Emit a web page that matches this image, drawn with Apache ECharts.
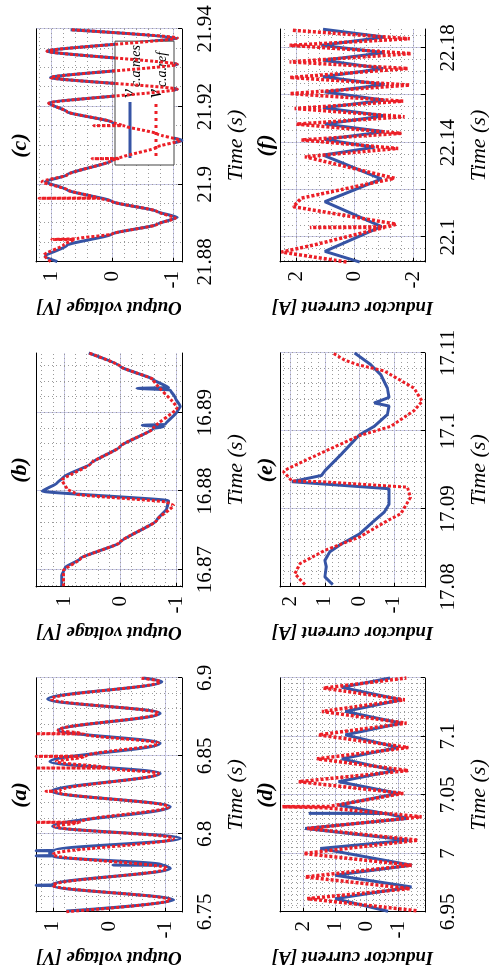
<!DOCTYPE html>
<html>
<head>
<meta charset="utf-8">
<title>Output voltage and inductor current</title>
<script src="https://cdn.jsdelivr.net/npm/echarts@6/dist/echarts.min.js"></script>
<style>
  html, body { margin: 0; padding: 0; background: #fff; overflow: hidden; }
  /* the figure is laid out landscape and turned a quarter turn to the left */
  #chart {
    position: absolute; left: 0; top: 0;
    width: 976px; height: 489px;
    transform-origin: 0 0;
    transform: translateY(976px) rotate(-90deg);
  }
</style>
</head>
<body>
<div id="chart"></div>
<script>
// [time (s), value]
const aMes = [[6.7506,0.76],[6.7577,-1.15],[6.7669,1.0],[6.7671,1.30],[6.7674,1.02],[6.7780,-1.09],[6.7799,-1.0],[6.7801,-0.07],[6.7802,-0.95],[6.7859,1.0],[6.7860,1.30],[6.7862,1.02],[6.7878,1.06],[6.7892,1.0],[6.7893,1.30],[6.7895,0.98],[6.7972,-1.27],[6.8049,1.0],[6.8175,-1.09],[6.8274,1.02],[6.8389,-0.91],[6.8464,1.05],[6.8581,-0.91],[6.8665,0.9],[6.8774,-0.91],[6.8865,1.09],[6.8977,-0.94],[6.9,-0.61]];
const aRef = [[6.7502,0.76],[6.7577,-1.09],[6.7671,1.0],[6.7780,-1.03],[6.7868,1.0],[6.7972,-1.15],[6.8049,0.97],[6.8073,0.55],[6.8075,1.3],[6.8077,0.5],[6.8175,-1.06],[6.8272,0.95],[6.8274,1.12],[6.8276,0.88],[6.8389,-0.88],[6.8422,0.0],[6.8423,1.3],[6.8424,0.05],[6.8464,0.94],[6.8496,0.45],[6.8498,1.3],[6.85,0.4],[6.8581,-0.88],[6.8641,0.44],[6.8643,1.3],[6.8645,0.5],[6.8665,0.91],[6.8774,-0.88],[6.8865,1.03],[6.8977,-0.91],[6.9,-0.55]];

const bMes = [[16.8679,1.04],[16.8693,1.04],[16.8703,0.98],[16.8714,0.71],[16.8735,0],[16.8763,-0.65],[16.8778,-0.83],[16.8788,-0.86],[16.88,1.39],[16.881,1.13],[16.8818,1.01],[16.8835,0.53],[16.8857,0],[16.888,-0.59],[16.8882,-0.77],[16.8884,-0.39],[16.8885,-0.8],[16.8901,-1.01],[16.8908,-1.07],[16.8919,-0.98],[16.8929,-0.89],[16.8931,-0.3],[16.8932,-0.86],[16.8942,-0.59],[16.8959,0],[16.8976,0.56]];
const bRef = [[16.8679,1.01],[16.8699,1.01],[16.8714,0.71],[16.8735,0],[16.8763,-0.65],[16.8782,-0.95],[16.8786,-0.83],[16.8796,0.77],[16.8803,0.95],[16.8814,1.04],[16.8835,0.53],[16.8857,0],[16.888,-0.59],[16.8906,-1.01],[16.8942,-0.59],[16.8959,0],[16.8976,0.56]];

const cMes = [[21.8801,0.90],[21.8815,1.10],[21.8843,0.74],[21.8872,0],[21.8897,-0.74],[21.8915,-1.07],[21.893,-0.74],[21.8956,0],[21.8986,0.74],[21.9007,1.10],[21.9024,0.74],[21.9062,0],[21.9096,-0.74],[21.9113,-1.15],[21.913,-0.74],[21.916,0],[21.9187,0.74],[21.9209,1.04],[21.9245,-1.07],[21.9275,1.01],[21.9309,-1.07],[21.9343,1.07],[21.9377,-1.07],[21.9398,0.68]];
const cRef = [[21.8801,1.01],[21.8818,1.12],[21.8845,0.79],[21.8858,0.63],[21.8858,0.99],[21.886,0.58],[21.8872,0],[21.8897,-0.74],[21.8913,-1.04],[21.893,-0.74],[21.8956,0],[21.8964,0.19],[21.8964,1.2],[21.8965,0.25],[21.8986,0.74],[21.9007,1.15],[21.9024,0.74],[21.9062,0],[21.9066,-0.1],[21.9066,0.33],[21.9067,-0.12],[21.9096,-0.74],[21.9113,-1.12],[21.913,-0.74],[21.9151,-0.2],[21.9151,0.3],[21.9152,-0.16],[21.916,0],[21.9187,0.74],[21.9209,1.04],[21.9245,-1.07],[21.9275,1.01],[21.9309,-1.07],[21.9343,1.07],[21.9377,-1.07],[21.9398,0.68]];

const dMes = [[6.9506,-0.68],[6.9614,1.0],[6.9714,-1.42],[6.9814,1.0],[6.99,-1.42],[7.0043,1.47],[7.0114,-1.32],[7.0214,1.95],[7.03,-1.32],[7.0342,-0.6],[7.0343,1.84],[7.0345,-0.5],[7.0414,0.89],[7.0514,-1.0],[7.0614,0.89],[7.0709,-0.89],[7.0809,0.79],[7.0906,-1.0],[7.1014,0.68],[7.1114,-1.1],[7.1214,0.68],[7.1314,-1.1],[7.142,0.79],[7.15,-0.74]];
const dRef = [[6.9511,-1.58],[6.9614,1.89],[6.97,-1.37],[6.98,1.95],[6.99,-1.42],[7.0,2.0],[7.0114,-1.63],[7.0214,1.89],[7.0314,-1.74],[7.0391,1.32],[7.04,2.68],[7.0402,1.2],[7.0514,-1.16],[7.0614,2.16],[7.0709,-1.32],[7.0809,1.58],[7.0906,-1.32],[7.1014,1.53],[7.1114,-1.26],[7.1214,1.42],[7.1314,-1.21],[7.1414,1.37],[7.15,-1.26]];

const eMes = [[17.0803,0.77],[17.0813,1.0],[17.0826,0.96],[17.0834,1.0],[17.0845,0.86],[17.0855,0.53],[17.0868,0],[17.0885,-0.43],[17.0896,-0.72],[17.0906,-0.86],[17.0926,-0.86],[17.0935,1.96],[17.0943,1.10],[17.0949,1.0],[17.097,0.53],[17.0995,0],[17.1006,-0.43],[17.1021,-0.81],[17.1032,-0.86],[17.1036,-0.43],[17.1043,-0.86],[17.1055,-0.81],[17.1072,-0.62],[17.1085,-0.33],[17.11,0.14]];
const eRef = [[17.0803,1.58],[17.0817,1.87],[17.083,1.72],[17.0847,1.0],[17.0864,0],[17.0885,-0.81],[17.0894,-1.2],[17.0915,-1.48],[17.0928,-1.39],[17.0935,1.10],[17.0936,1.96],[17.0948,2.2],[17.0952,2.06],[17.0974,1.0],[17.0994,0],[17.1006,-0.91],[17.1026,-1.58],[17.1038,-1.82],[17.1055,-1.58],[17.1077,-0.72],[17.1085,0.05],[17.1091,0.43],[17.11,0.77]];

const fMes = [[22.0895,-0.17],[22.094,1.02],[22.1045,-0.91],[22.115,1.02],[22.1246,-0.91],[22.1347,1.08],[22.138,-0.68],[22.1413,1.02],[22.1446,-1.02],[22.1478,1.02],[22.1513,-1.02],[22.1547,1.08],[22.1579,-1.02],[22.1614,1.02],[22.1645,-1.02],[22.1678,1.08],[22.1713,-0.97],[22.1748,1.08],[22.178,-1.02],[22.1811,1.14],[22.1846,-1.02],[22.1879,1.08]];
const fRef = [[22.0895,0.28],[22.0937,2.5],[22.0968,1.36],[22.1031,-0.68],[22.1041,-1.02],[22.1041,1.53],[22.1044,-1.14],[22.1055,-1.42],[22.1129,2.1],[22.1165,1.82],[22.1249,-1.36],[22.134,1.70],[22.1375,-1.48],[22.1411,1.82],[22.1439,-1.59],[22.1478,1.99],[22.1509,-1.70],[22.1544,2.05],[22.1575,-1.65],[22.1607,2.22],[22.1643,-1.88],[22.1675,2.22],[22.1713,-1.82],[22.1741,2.22],[22.1776,-1.93],[22.1811,2.22],[22.1839,-1.88],[22.1875,2.16]];

// tick values
const tickA = [6.75, 6.8, 6.85, 6.9];
const tickB = [16.87, 16.88, 16.89];
const tickC = [21.88, 21.9, 21.92, 21.94];
const tickD = [6.95, 7, 7.05, 7.1, 7.15];
const labelD = [6.95, 7, 7.05, 7.1];
const tickE = [17.08, 17.09, 17.1, 17.11];
const tickF = [22.1, 22.12, 22.14, 22.16, 22.18];
const labelF = [22.1, 22.14, 22.18];
const voltTicks = [-1, 0, 1];
const ampTicks = [-1, 0, 1, 2];
const ampTicksF = [-2, 0, 2];

const FONT = '"Liberation Serif", "Times New Roman", serif';
const BLUE = '#3654a5';
const RED = '#ec1f27';
const DOTS = 'path://M0,0h3v3h-3zM7,0h3v3h-3zM14,0h3v3h-3zM21,0h3v3h-3zM28,0h3v3h-3zM35,0h3v3h-3zM42,0h3v3h-3zM49,0h3v3h-3z';

const panels = [
  { tag: '(a)', box: [64, 36, 234, 146], t: [6.75, 6.9], v: [-1.3, 1.3], tMajor: tickA, tLabels: tickA, tStep: 0.01, vMajor: voltTicks, vStep: 0.2, yName: 'Output voltage [V]', mes: aMes, ref: aRef, smooth: 0.35, redW: 3 },
  { tag: '(b)', box: [389, 36, 234, 146], t: [16.8678, 16.8976], v: [-1.1, 1.5], tMajor: tickB, tLabels: tickB, tStep: 0.002, vMajor: voltTicks, vStep: 0.2, yName: 'Output voltage [V]', mes: bMes, ref: bRef, smooth: 0.15, redW: 3 },
  { tag: '(c)', box: [714, 36, 233, 146], t: [21.88, 21.94], v: [-1.15, 1.25], tMajor: tickC, tLabels: tickC, tStep: 0.005, vMajor: voltTicks, vStep: 0.2, yName: 'Output voltage [V]', mes: cMes, ref: cRef, smooth: 0.2, redW: 3 },
  { tag: '(d)', box: [64, 280, 234, 145], t: [6.95, 7.15], v: [-1.85, 2.75], tMajor: tickD, tLabels: labelD, tStep: 0.005, vMajor: ampTicks, vStep: 0.2, yName: 'Inductor current [A]', mes: dMes, ref: dRef, smooth: false, redW: 3.5 },
  { tag: '(e)', box: [389, 280, 234, 145], t: [17.08, 17.11], v: [-1.9, 2.3], tMajor: tickE, tLabels: tickE, tStep: 0.002, vMajor: ampTicks, vStep: 0.2, yName: 'Inductor current [A]', mes: eMes, ref: eRef, smooth: false, redW: 3 },
  { tag: '(f)', box: [714, 280, 233, 145], t: [22.0895, 22.188], v: [-2.4, 2.55], tMajor: tickF, tLabels: labelF, tStep: 0.005, vMajor: ampTicksF, vStep: 0.4, yName: 'Inductor current [A]', mes: fMes, ref: fRef, smooth: false, redW: 3.5 }
];

function steps(min, max, step) {
  const out = [];
  for (let k = Math.ceil(min / step - 1e-6); k * step <= max + 1e-9; k++) {
    out.push(+(k * step).toFixed(6));
  }
  return out;
}

const fmt = v => String(+(+v).toFixed(4));

const grids = [], xAxes = [], yAxes = [], series = [], graphics = [];

panels.forEach((p, i) => {
  const [left, top, width, height] = p.box;
  grids.push({ left, top, width, height, containLabel: false, outerBoundsMode: 'none' });

  // time axis: labelled ticks and solid grid
  xAxes.push({
    gridIndex: i, type: 'value', min: p.t[0], max: p.t[1], position: 'bottom',
    axisLine: { show: true, onZero: false, lineStyle: { color: '#000', width: 1 } },
    axisTick: { show: true, inside: true, length: 4, customValues: p.tMajor, lineStyle: { color: '#000' } },
    axisLabel: { customValues: p.tLabels, margin: 13, fontSize: 21, fontFamily: FONT, color: '#000', formatter: fmt },
    splitLine: { show: true, lineStyle: { color: '#cacae8', width: 1 } },
    name: 'Time (s)', nameLocation: 'middle', nameGap: 43,
    nameTextStyle: { fontFamily: FONT, fontStyle: 'italic', fontSize: 22, color: '#000' }
  });
  // dotted minor grid + top border
  xAxes.push({
    gridIndex: i, type: 'value', min: p.t[0], max: p.t[1], position: 'top',
    axisLine: { show: true, onZero: false, lineStyle: { color: '#000', width: 1 } },
    axisTick: { show: false, customValues: steps(p.t[0], p.t[1], p.tStep) },
    axisLabel: { show: false },
    splitLine: { show: true, lineStyle: { color: '#9a9a9a', width: 1, type: [1, 3] } }
  });

  yAxes.push({
    gridIndex: i, type: 'value', min: p.v[0], max: p.v[1], position: 'left',
    axisLine: { show: true, onZero: false, lineStyle: { color: '#000', width: 1 } },
    axisTick: { show: true, inside: true, length: 4, customValues: p.vMajor, lineStyle: { color: '#000' } },
    axisLabel: { customValues: p.vMajor, margin: 9, fontSize: 21, fontFamily: FONT, color: '#000', formatter: fmt },
    splitLine: { show: true, lineStyle: { color: '#cacae8', width: 1 } },
    name: p.yName, nameLocation: 'middle', nameRotate: 90, nameGap: 35,
    nameTextStyle: { fontFamily: FONT, fontStyle: 'italic', fontWeight: 'bold', fontSize: 19, color: '#000' }
  });
  yAxes.push({
    gridIndex: i, type: 'value', min: p.v[0], max: p.v[1], position: 'right',
    axisLine: { show: false },
    axisTick: { show: false, customValues: steps(p.v[0], p.v[1], p.vStep) },
    axisLabel: { show: false },
    splitLine: { show: true, lineStyle: { color: '#9a9a9a', width: 1, type: [1, 3] } }
  });

  series.push({
    name: 'v_c.a.mes', type: 'line', xAxisIndex: 2 * i, yAxisIndex: 2 * i,
    data: p.mes, symbol: 'none', showSymbol: false, clip: true,
    smooth: p.smooth, smoothMonotone: 'x',
    lineStyle: { color: BLUE, width: 3 }, itemStyle: { color: BLUE }, z: 3
  });
  series.push({
    name: 'v_c.a.ref', type: 'line', xAxisIndex: 2 * i, yAxisIndex: 2 * i,
    data: p.ref, symbol: 'none', showSymbol: false, clip: true,
    smooth: p.smooth, smoothMonotone: 'x',
    lineStyle: { color: RED, width: p.redW, type: [3, 2] }, itemStyle: { color: RED }, z: 4
  });

  graphics.push({
    type: 'text', x: left + width / 2, y: i < 3 ? 20 : 266,
    style: { text: p.tag, font: 'italic bold 22px ' + FONT, fill: '#000', align: 'center', verticalAlign: 'middle' }
  });
});

const chart = echarts.init(document.getElementById('chart'), null, { renderer: 'canvas' });

chart.setOption({
  animation: false,
  backgroundColor: '#fff',
  grid: grids,
  xAxis: xAxes,
  yAxis: yAxes,
  series: series,
  graphic: graphics,
  legend: {
    show: true, orient: 'vertical', left: 811, top: 115,
    itemWidth: 56, itemHeight: 3, itemGap: 0,
    padding: [2, 4, 5, 7],
    backgroundColor: '#fff', borderColor: '#444', borderWidth: 1, borderRadius: 0,
    selectedMode: false,
    data: [
      { name: 'v_c.a.mes', icon: 'rect', itemStyle: { color: BLUE, borderWidth: 0 } },
      { name: 'v_c.a.ref', icon: DOTS, itemStyle: { color: RED, borderWidth: 0 } }
    ],
    formatter: name => name === 'v_c.a.mes' ? '{v|v}{s|c.a.mes}' : '{v|v}{s|c.a.ref}',
    textStyle: {
      color: '#000', padding: [0, 0, 0, -1],
      rich: {
        v: { fontFamily: FONT, fontStyle: 'italic', fontSize: 20, color: '#000', lineHeight: 20 },
        s: { fontFamily: FONT, fontStyle: 'italic', fontSize: 14, color: '#000', lineHeight: 13, padding: [12, 0, 0, 2] }
      }
    }
  }
});
</script>
</body>
</html>
